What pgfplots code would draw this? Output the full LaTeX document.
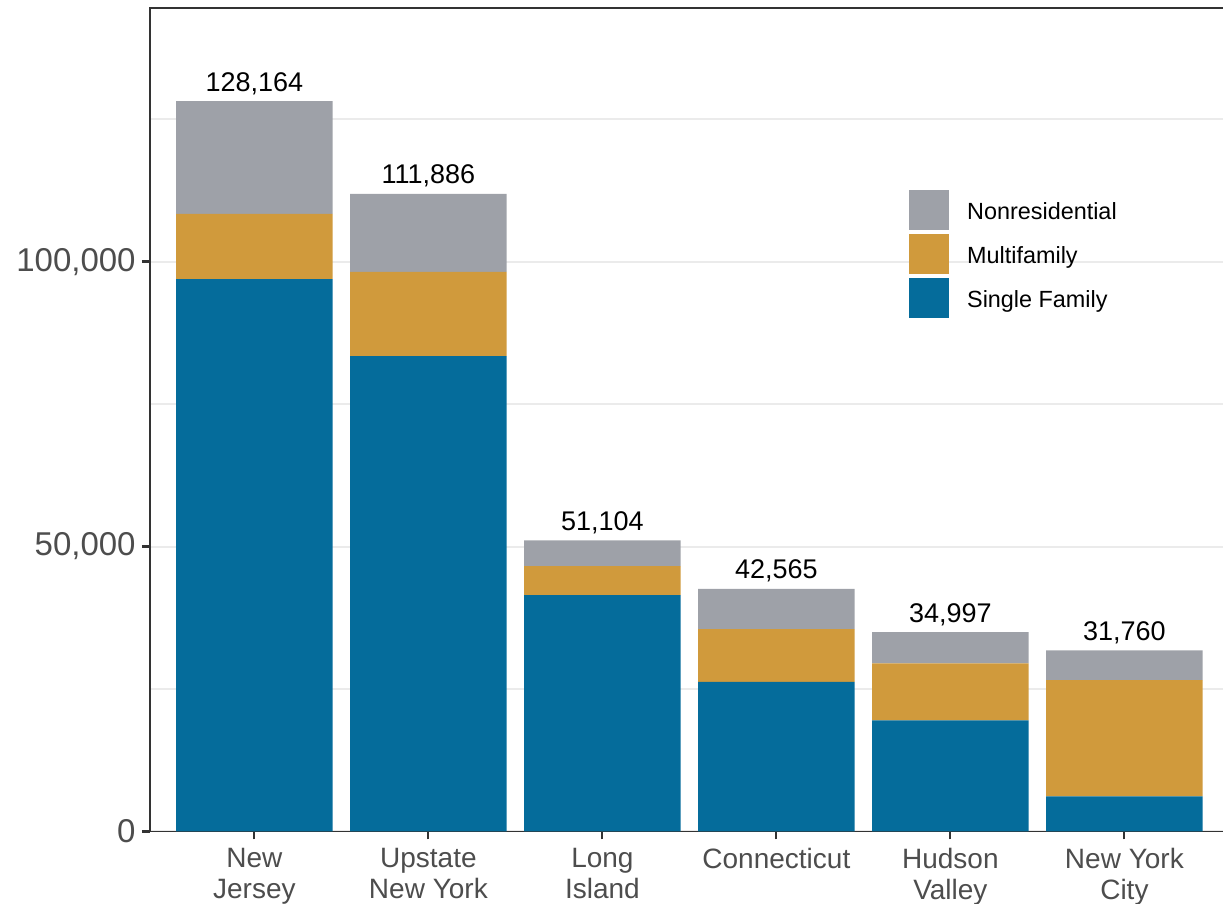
\documentclass[border=0pt]{standalone}
\usepackage{fontspec}
\setmainfont{Liberation Sans}
\usepackage{pgfplots}
\pgfplotsset{compat=1.18}
\usepackage{pgfplotstable}
\usetikzlibrary{calc}

\definecolor{sf}{RGB}{5,108,155}
\definecolor{mf}{RGB}{208,154,60}
\definecolor{nr}{RGB}{158,161,168}
\definecolor{gridc}{RGB}{235,235,235}
\definecolor{tickc}{RGB}{77,77,77}
\definecolor{framec}{RGB}{51,51,51}

\pgfplotstableread{
x sf mf nr cap lbl
0 96930 11460 19774 1 128,164
1 83420 14790 13676 1 111,886
2 41490 5090 4524 1 51,104
3 26260 9230 7075 1 42,565
4 19490 10010 5497 1 34,997
5 6150 20410 5200 1 31,760
}\datatable

\begin{document}
\begin{tikzpicture}
\begin{axis}[
  name=ax, at={(0,0)}, anchor=south west,
  scale only axis, width=539.4pt, height=411.75pt,
  xmin=-0.6, xmax=5.6, ymin=0, ymax=144500,
  ybar stacked, bar width=0.9,
  xtick={0,1,2,3,4,5},
  xticklabels={New\\Jersey, Upstate\\New York, Long\\Island, Connecticut, Hudson\\Valley, New York\\City},
  ytick={0,50000,100000}, minor ytick={25000,75000,125000},
  ymajorgrids, yminorgrids,
  major grid style={gridc, line width=1pt},
  minor grid style={gridc, line width=0.9pt},
  tick align=outside, major tick length=4pt, minor tick length=0pt,
  tick style={framec, line width=1.1pt},
  xtick pos=bottom, ytick pos=left,
  axis line style={framec, line width=0.9pt},
  scaled y ticks=false,
  /pgf/number format/fixed,
  /pgf/number format/1000 sep={,},
  /pgf/number format/assume math mode=true,
  yticklabel style={font=\fontsize{16.5}{19}\selectfont, text=tickc, inner sep=3pt},
  xticklabel style={font=\fontsize{14}{15.5}\selectfont, text=tickc, align=center, inner sep=4pt},
  legend image code/.code={\fill[#1] (0pt,-8.8pt) rectangle (20pt,11.2pt);},
  reverse legend,
  legend cell align=left,
  legend style={draw=none, fill=none, at={(0.7037,0.779)}, anchor=north west,
    inner sep=0pt, outer sep=0pt, font=\fontsize{11.7}{14}\selectfont,
    row sep=2pt, nodes={inner sep=0pt},
    /tikz/every odd column/.append style={column sep=9pt}},
]
\addplot[fill=sf, draw=none] table[x=x,y=sf]{\datatable};
\addplot[fill=mf, draw=none] table[x=x,y=mf]{\datatable};
\addplot[fill=nr, draw=none] table[x=x,y=nr]{\datatable};
\addplot[draw=none, fill=none, forget plot,
  point meta=explicit symbolic,
  nodes near coords={\pgfplotspointmeta},
  nodes near coords style={anchor=base, yshift=5pt, inner sep=0pt, text=black, font=\fontsize{13.5}{16}\selectfont}]
  table[x=x,y=cap,meta=lbl]{\datatable};
\legend{Single Family, Multifamily, Nonresidential}
\end{axis}
\pgfresetboundingbox
\path[use as bounding box] ($(ax.south west)+(-75pt,-36.25pt)$) rectangle ($(ax.north west)+(536.5pt,4pt)$);
\end{tikzpicture}
\end{document}
